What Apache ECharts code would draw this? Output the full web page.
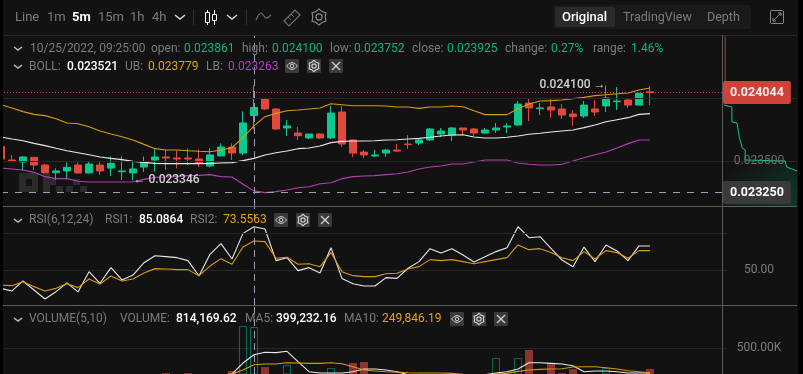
<!DOCTYPE html>
<html>
<head>
<meta charset="utf-8">
<style>
  html, body { margin: 0; padding: 0; background: #000; }
  #chart { width: 803px; height: 374px; }
</style>
<script src="https://cdn.jsdelivr.net/npm/echarts@6/dist/echarts.min.js"></script>
</head>
<body>
<div id="chart"></div>
<script>
// prices are in millionths, they get divided down when the chart is built
const opens = [23614,23508,23492,23529,23468,23407,23421,23468,23405,23468,23444,23415,23405,23452,23508,23532,23524,23524,23516,23460,23540,23611,23563,23861,23992,23913,23762,23722,23683,23714,23683,23889,23667,23571,23540,23563,23587,23635,23643,23667,23714,23706,23762,23754,23722,23746,23770,23786,23960,23915,23929,23913,23873,23857,23913,23937,23971,23984,23944,24050];
const closes = [23516,23495,23532,23468,23407,23421,23450,23405,23476,23421,23481,23421,23437,23492,23532,23524,23516,23516,23481,23548,23611,23563,23802,23925,23913,23754,23778,23701,23714,23683,23881,23635,23563,23548,23548,23587,23579,23630,23667,23754,23738,23762,23746,23722,23746,23762,23778,23952,23921,23921,23905,23865,23852,23944,23889,24000,23976,23944,24037,24044];
const lows = [23516,23495,23423,23429,23402,23349,23354,23402,23402,23389,23381,23349,23346,23413,23415,23429,23442,23468,23452,23450,23540,23508,23548,23752,23905,23746,23698,23667,23675,23675,23675,23611,23532,23524,23532,23532,23571,23595,23627,23659,23690,23659,23706,23698,23722,23722,23722,23778,23817,23865,23841,23833,23778,23841,23857,23889,23905,23921,23944,23944];
const highs = [23614,23548,23540,23529,23476,23442,23489,23489,23500,23489,23537,23537,23495,23537,23593,23587,23582,23601,23593,23601,23640,23640,23894,24100,24000,23921,23825,23770,23714,23720,23937,23937,23667,23587,23587,23595,23635,23706,23675,23762,23762,23770,23762,23762,23762,23802,23802,23976,24000,23958,23997,23952,23905,23976,23984,24100,24087,23992,24042,24095];
const bollUp = [23947,23921,23892,23870,23860,23836,23802,23796,23772,23738,23714,23693,23667,23632,23598,23587,23587,23582,23577,23574,23587,23606,23685,23779,23852,23878,23899,23905,23913,23921,23955,23947,23939,23939,23939,23937,23929,23929,23918,23929,23929,23937,23931,23899,23868,23868,23868,23915,23952,23976,23979,23984,23995,24005,24019,24026,24034,24040,24063,24079];
const bollMid = [23690,23675,23661,23640,23622,23601,23582,23566,23550,23532,23521,23511,23497,23489,23481,23479,23479,23479,23479,23481,23484,23487,23503,23521,23548,23566,23579,23598,23603,23619,23646,23656,23659,23659,23661,23667,23669,23675,23680,23688,23698,23706,23709,23690,23683,23683,23688,23698,23712,23720,23730,23738,23746,23765,23786,23812,23828,23844,23870,23876];
const bollLow = [23444,23437,23429,23410,23376,23360,23360,23339,23333,23333,23333,23333,23336,23354,23370,23373,23378,23384,23386,23392,23376,23373,23315,23263,23249,23257,23270,23288,23296,23320,23328,23360,23376,23381,23384,23392,23399,23413,23437,23452,23460,23476,23476,23492,23508,23508,23508,23484,23474,23468,23468,23474,23500,23526,23550,23571,23603,23638,23667,23667];
const rsi1 = [35.1,33.0,41.1,33.8,26.5,32.4,39.5,32.2,48.6,39.2,51.9,41.9,45.9,55.9,61.6,60.8,60.0,57.6,45.1,62.7,71.4,58.9,79.7,85.09,83.2,57.6,60.0,49.5,51.9,47.6,68.1,43.0,38.9,37.0,37.0,43.8,43.2,51.4,56.8,67.3,63.8,67.3,62.2,56.5,60.8,64.9,68.1,85.1,76.2,77.0,67.6,58.1,52.7,68.6,56.8,70.3,65.4,57.6,69.5,69.5];
const rsi2 = [37.6,37.3,40.5,36.5,33.0,35.1,38.9,35.7,42.7,38.6,45.1,41.1,42.7,47.6,51.1,50.8,50.3,50.3,45.4,53.2,59.2,54.6,68.6,73.56,73.0,59.5,60.3,54.6,55.1,52.7,64.1,48.6,45.4,44.6,44.6,47.0,47.3,50.8,52.7,58.4,57.6,58.4,56.8,55.1,56.8,58.4,60.0,70.3,66.5,67.3,64.1,60.0,57.6,64.9,58.9,65.7,64.1,59.5,65.7,65.7];
const volumes = [70000,85000,60000,90000,80000,75000,65000,95000,85000,70000,75000,60000,80000,90000,85000,125000,70000,125000,60000,100000,95000,155000,829000,814170,215000,90000,245000,80000,60000,75000,200000,95000,275000,290000,70000,85000,60000,75000,65000,90000,80000,70000,85000,95000,60000,350000,90000,350000,470000,85000,275000,125000,185000,95000,70000,200000,85000,75000,90000,185000];
const volMa5 = [70000,75000,72000,78000,80000,78000,76000,80000,82000,80000,78000,74000,76000,80000,82000,90000,88000,94000,90000,96000,95000,111000,275000,399232,435000,430000,450000,295000,145000,125000,125000,125000,145000,185000,185000,170000,145000,100000,75000,80000,78000,78000,80000,82000,100000,125000,145000,185000,280000,280000,270000,260000,235000,145000,155000,155000,145000,125000,125000,125000];
const volMa10 = [70000,72000,72000,75000,76000,76000,76000,77000,78000,78000,78000,78000,78000,78000,79000,84000,83000,87000,86000,88000,90000,110000,170000,249846,260000,260000,280000,275000,270000,270000,280000,265000,220000,170000,155000,145000,139000,130000,125000,125000,125000,120000,105000,100000,100000,110000,120000,150000,170000,180000,185000,190000,215000,220000,220000,205000,185000,160000,145000,130000];
const depthX = [1.4,12,12,19,22,24,26,30,30,84,86,93,100];
const depthPrice = [23944,23929,23810,23802,23690,23683,23603,23587,23508,23500,23452,23437,23421];
const priceTicks = [0.0235, 0.024];
const priceLabels = [0.0235];
const lastPrice = 0.024044;
const lowGuide = 0.02325;
const rsiTicks = [50];
const volTicks = [500000];

const green = "#0cc88f", red = "#e2493d", gold = "#d89a10", purple = "#b040b4", white = "#e8e8e8";
const gridCol = "#262626", textCol = "#7c7c7c";
const fontName = "Roboto";
const crossIndex = 23;

// 60 candles + empty space up to the price axis
const categories = [];
for (let i = 0; i < 67; i++) {
  const mins = 9 * 60 + 25 + (i - crossIndex) * 5;
  categories.push(String(Math.floor(mins / 60)).padStart(2, "0") + ":" + String(mins % 60).padStart(2, "0"));
}
const p = (v) => +(v / 1000000).toFixed(6);

const candleData = opens.map((o, i) => [p(o), p(closes[i]), p(lows[i]), p(highs[i])]);
const volData = volumes.map((v, i) => {
  const up = closes[i] >= opens[i];
  return {
    value: v,
    itemStyle: up
      ? { color: "transparent", borderColor: "#0b6b52", borderWidth: 1 }
      : { color: "#8a342e" },
  };
});

const crossLine = () => ({
  silent: true,
  symbol: "none",
  animation: false,
  label: { show: false },
  lineStyle: { color: "#9aa0b8", type: [7, 5], width: 1 },
  data: [{ xAxis: crossIndex }],
  z: 8,
});

const lineSeries = (name, data, color, xi, extra) =>
  Object.assign(
    {
      name: name,
      type: "line",
      data: data,
      xAxisIndex: xi,
      yAxisIndex: xi,
      showSymbol: false,
      smooth: false,
      animation: false,
      silent: true,
      lineStyle: { color: color, width: 1.1 },
    },
    extra || {}
  );

const xBase = (gi) => ({
  type: "category",
  gridIndex: gi,
  data: categories,
  boundaryGap: false,
  axisLine: { show: false },
  axisTick: { show: false },
  axisLabel: { show: false },
  splitLine: { show: false },
});

const tagLabel = (bg, val) => ({
  show: true,
  position: "end",
  distance: -4,
  formatter: val.toFixed(6),
  color: "#fff",
  fontFamily: fontName,
  fontWeight: 700,
  fontSize: 12.5,
  backgroundColor: bg,
  borderRadius: 2,
  padding: [5, 7, 5, 7],
});

const markText = (pos, dist, s) => ({
  show: true, position: pos, distance: dist, formatter: s,
  color: "#d2d2d2", fontSize: 12, fontFamily: fontName, fontWeight: 500,
});

// ---- chrome drawn on top of / around the chart ----
const chrome = [];
const txt = (x, y, s, color, weight, size) =>
  chrome.push({
    type: "text", z: 50, silent: true,
    style: { x: x, y: y, text: s, fill: color, fontFamily: fontName, fontWeight: weight || 400, fontSize: size || 12, textVerticalAlign: "middle" },
  });
const rect = (x, y, w, h, fill, r, z) =>
  chrome.push({ type: "rect", z: z === undefined ? 49 : z, silent: true, shape: { x: x, y: y, width: w, height: h, r: r || 0 }, style: { fill: fill } });
const hline = (x1, x2, y, c) =>
  chrome.push({ type: "line", z: 40, silent: true, shape: { x1: x1, y1: y, x2: x2, y2: y }, style: { stroke: c, lineWidth: 1 } });
const vline = (x, y1, y2, c) =>
  chrome.push({ type: "line", z: 40, silent: true, shape: { x1: x, y1: y1, x2: x, y2: y2 }, style: { stroke: c, lineWidth: 1 } });
const poly = (pts, c, w, smooth) =>
  chrome.push({ type: "polyline", z: 50, silent: true, shape: { points: pts, smooth: smooth || 0 }, style: { stroke: c, lineWidth: w || 1.4, fill: null } });
const chevron = (x, y, w, c) => poly([[x, y], [x + w / 2, y + w / 2 - 1], [x + w, y]], c, 1.5);
const gear = (cx, cy, r, c) => {
  const pts = [];
  for (let a = 0; a < 12; a++) {
    const rr = a % 2 ? r * 0.78 : r;
    const t = (Math.PI / 6) * a + Math.PI / 6;
    pts.push([cx + rr * Math.cos(t), cy + rr * Math.sin(t)]);
  }
  chrome.push({ type: "polygon", z: 50, silent: true, shape: { points: pts }, style: { stroke: c, lineWidth: 1.2, fill: null } });
  chrome.push({ type: "circle", z: 50, silent: true, shape: { cx: cx, cy: cy, r: r * 0.38 }, style: { stroke: c, lineWidth: 1.2, fill: null } });
};
const iconRow = (x, y) => {
  // eye, gear, close
  rect(x, y, 14, 14, "#3a3a3a", 1);
  chrome.push({ type: "polygon", z: 50, silent: true, shape: { points: [[x + 1.5, y + 7], [x + 4, y + 4.5], [x + 7, y + 3.5], [x + 10, y + 4.5], [x + 12.5, y + 7], [x + 10, y + 9.5], [x + 7, y + 10.5], [x + 4, y + 9.5]] }, style: { stroke: "#d0d0d0", lineWidth: 1, fill: null } });
  chrome.push({ type: "circle", z: 50, silent: true, shape: { cx: x + 7, cy: y + 7, r: 1.8 }, style: { stroke: "#d0d0d0", lineWidth: 1, fill: null } });
  rect(x + 22, y, 14, 14, "#3a3a3a", 1);
  gear(x + 29, y + 7, 5.6, "#d0d0d0");
  rect(x + 44, y, 14, 14, "#3a3a3a", 1);
  poly([[x + 47, y + 3], [x + 55, y + 11]], "#d0d0d0", 1.3);
  poly([[x + 55, y + 3], [x + 47, y + 11]], "#d0d0d0", 1.3);
};

// toolbar
txt(15, 18, "Line", textCol, 400, 13);
txt(47, 18, "1m", textCol, 400, 13);
txt(72, 18, "5m", "#fff", 700, 13);
txt(98, 18, "15m", textCol, 400, 13);
txt(130, 18, "1h", textCol, 400, 13);
txt(152, 18, "4h", textCol, 400, 13);
chevron(175, 15, 10, "#d8d8d8");
vline(193.5, 9, 25, "#2e2e2e");
// candle icon
vline(207.5, 10, 25, "#fff");
vline(214.5, 10, 25, "#fff");
chrome.push({ type: "rect", z: 50, silent: true, shape: { x: 205.5, y: 12.5, width: 4, height: 10 }, style: { stroke: "#fff", fill: "#121212", lineWidth: 1 } });
chrome.push({ type: "rect", z: 50, silent: true, shape: { x: 212.5, y: 14.5, width: 4, height: 6 }, style: { stroke: "#fff", fill: "#121212", lineWidth: 1 } });
chevron(227, 15, 10, "#d8d8d8");
vline(246.5, 9, 25, "#2e2e2e");
poly([[256, 20], [261, 13], [266, 18], [271, 15]], "#6f6f6f", 1.2, 0.4);
chrome.push({ type: "polygon", z: 50, silent: true, shape: { points: [[284, 21], [295, 10], [300, 15], [289, 26]] }, style: { stroke: "#6f6f6f", lineWidth: 1.2, fill: null } });
poly([[288, 17], [291, 20]], "#6f6f6f", 1);
poly([[291, 14], [294, 17]], "#6f6f6f", 1);
gear(319, 17, 8, "#8a8a8a");

// right tabs
rect(553, 5, 198, 24, "#1a1a1a", 3);
rect(555, 7, 60, 20, "#2a2a2a", 2);
txt(562, 18, "Original", "#fff", 500, 13);
txt(623, 18, "TradingView", textCol, 400, 12.5);
txt(707, 18, "Depth", textCol, 400, 12.5);
chrome.push({ type: "rect", z: 50, silent: true, shape: { x: 770.5, y: 10.5, width: 13, height: 13, r: 1 }, style: { stroke: "#8a8a8a", fill: null, lineWidth: 1 } });
poly([[773, 21], [781, 13]], "#8a8a8a", 1);
poly([[778, 13], [781, 13], [781, 16]], "#8a8a8a", 1);
poly([[773, 18], [773, 21], [776, 21]], "#8a8a8a", 1);

// info rows
const dimGreen = "#0ab587";
chevron(14, 47, 8, "#bdbdbd");
[[30, "10/25/2022, 09:25:00", textCol], [151, "open:", textCol], [184, "0.023861", dimGreen], [242, "high:", textCol], [272, "0.024100", dimGreen],
 [330, "low:", textCol], [354, "0.023752", dimGreen], [412, "close:", textCol], [447, "0.023925", dimGreen], [505, "change:", textCol], [551, "0.27%", dimGreen],
 [593, "range:", textCol], [631, "1.46%", dimGreen]].forEach((a) => txt(a[0], 49, a[1], a[2]));
chevron(14, 65, 8, "#bdbdbd");
txt(29, 67, "BOLL:", textCol);
txt(67, 67, "0.023521", "#fff", 500);
txt(125, 67, "UB:", textCol);
txt(148, 67, "0.023779", "#e8a20c");
txt(206, 67, "LB:", textCol);
txt(228, 67, "0.023263", "#b63fc0");
iconRow(285, 59);

chevron(14, 219, 8, "#bdbdbd");
txt(29, 220, "RSI(6,12,24)", textCol);
txt(105, 220, "RSI1:", textCol);
txt(139, 220, "85.0864", "#fff", 500);
txt(190, 220, "RSI2:", textCol);
txt(223, 220, "73.5563", "#e8a20c");
iconRow(274, 213);

chevron(14, 318, 8, "#bdbdbd");
txt(29, 319, "VOLUME(5,10)", textCol);
txt(120, 319, "VOLUME:", textCol);
txt(176, 319, "814,169.62", "#fff", 500);
txt(245, 319, "MA5:", textCol);
txt(276, 319, "399,232.16", "#fff", 500);
txt(344, 319, "MA10:", textCol);
txt(382, 319, "249,846.19", "#e8a20c");
iconRow(450, 312);

// separators and axis border
hline(3, 797, 35.5, "#2a2a2a");
hline(3, 797, 206.5, "#5c5c5c");
hline(3, 797, 305.5, "#5c5c5c");
vline(722.5, 35, 374, "#5a5a5a");

// watermark blocks
[[19, 173, 19, 19], [43, 173, 7, 19], [50, 179, 6, 6], [56, 186, 7, 6], [66, 186, 7, 6], [80, 186, 7, 6], [73, 179, 7, 6]].forEach((r) => rect(r[0], r[1], r[2], r[3], "#2b2b2b", 0, 1));
rect(26, 179, 6, 7, "#121212", 0, 1);

// black edges of the screenshot
rect(0, 0, 3, 374, "#000", 0, 100);
rect(798, 0, 5, 374, "#000", 0, 100);

const option = {
  backgroundColor: "#121212",
  animation: false,
  textStyle: { fontFamily: fontName },
  graphic: { elements: chrome },
  grid: [
    { left: 1, top: 35, width: 726, height: 171 },
    { left: 1, top: 206, width: 726, height: 99 },
    { left: 1, top: 305, width: 726, height: 69 },
    { left: 723, top: 35, width: 74, height: 171 },
  ],
  xAxis: [
    xBase(0),
    xBase(1),
    xBase(2),
    { type: "value", gridIndex: 3, min: 0, max: 100, axisLine: { show: false }, axisTick: { show: false }, axisLabel: { show: false }, splitLine: { show: false } },
  ],
  yAxis: [
    {
      type: "value", gridIndex: 0, position: "right", min: 0.023143, max: 0.0245, scale: true,
      axisLine: { show: false },
      axisTick: { show: false, customValues: priceTicks },
      axisLabel: { customValues: priceLabels, formatter: (v) => v.toFixed(6), color: "#6e6e6e", fontSize: 12, fontFamily: fontName, margin: 32, align: "center" },
      splitLine: { show: true, lineStyle: { color: gridCol } },
      z: 6,
    },
    {
      type: "value", gridIndex: 1, position: "right", min: 21.6, max: 101.9,
      axisLine: { show: false },
      axisTick: { show: false, customValues: rsiTicks },
      axisLabel: { customValues: rsiTicks, formatter: (v) => v.toFixed(2), color: textCol, fontSize: 12, fontFamily: fontName, margin: 32, align: "center" },
      splitLine: { show: true, lineStyle: { color: gridCol } },
    },
    {
      type: "value", gridIndex: 2, position: "right", min: 110700, max: 1143000,
      axisLine: { show: false },
      axisTick: { show: false, customValues: volTicks },
      axisLabel: { customValues: volTicks, formatter: (v) => (v / 1000).toFixed(2) + "K", color: textCol, fontSize: 12, fontFamily: fontName, margin: 32, align: "center" },
      splitLine: { show: true, lineStyle: { color: gridCol } },
    },
    {
      type: "value", gridIndex: 3, position: "right", min: 0.023143, max: 0.0245, scale: true,
      axisLine: { show: false },
      axisTick: { show: false, customValues: priceTicks },
      axisLabel: { show: false },
      splitLine: { show: true, lineStyle: { color: gridCol } },
    },
  ],
  series: [
    // depth curve next to the price axis
    {
      type: "line", xAxisIndex: 3, yAxisIndex: 3, showSymbol: false, silent: true,
      data: depthX.map((x, i) => [x, p(depthPrice[i])]),
      lineStyle: { color: green, width: 1 },
      areaStyle: {
        origin: "start",
        color: { type: "linear", x: 0, y: 0, x2: 1, y2: 1, colorStops: [{ offset: 0.45, color: "rgba(12,200,143,0)" }, { offset: 1, color: "rgba(12,200,143,0.3)" }] },
      },
    },
    {
      type: "line", xAxisIndex: 3, yAxisIndex: 3, showSymbol: false, silent: true,
      data: [[3, 0.0245], [3, lastPrice]],
      lineStyle: { color: red, width: 1, opacity: 0.8 },
    },
    {
      type: "candlestick",
      name: "price",
      xAxisIndex: 0, yAxisIndex: 0,
      data: candleData,
      barWidth: 7,
      silent: true,
      itemStyle: { color: green, color0: red, borderColor: green, borderColor0: red, borderWidth: 1 },
    },
    lineSeries("UB", bollUp.map(p), gold, 0, {
      markPoint: {
        silent: true, animation: false, symbol: "circle", symbolSize: 1,
        itemStyle: { color: "transparent" },
        data: [
          { coord: [55, p(highs[55])], label: markText("left", 0, p(highs[55]).toFixed(6) + " \u2192") },
          { coord: [12, p(lows[12])], label: markText("right", 0, "\u2190 " + p(lows[12]).toFixed(6)) },
        ],
      },
    }),
    lineSeries("BOLL", bollMid.map(p), white, 0, { markLine: crossLine() }),
    lineSeries("LB", bollLow.map(p), purple, 0, {
      markLine: {
        silent: true, symbol: "none", animation: false, z: 8,
        precision: 6, // default of 2 rounds these prices off the axis
        data: [
          { yAxis: lastPrice, label: tagLabel(red, lastPrice), lineStyle: { color: red, type: [1, 2], width: 1, opacity: 0.9 } },
          { yAxis: lowGuide, label: tagLabel("#3a3a3a", lowGuide), lineStyle: { color: "#9aa0b8", type: [7, 7], width: 1 } },
        ],
      },
    }),

    lineSeries("RSI1", rsi1, white, 1, { markLine: crossLine() }),
    lineSeries("RSI2", rsi2, gold, 1, {
      markLine: {
        silent: true, symbol: "none", animation: false, label: { show: false },
        lineStyle: { color: gridCol, type: "solid", width: 1 },
        data: [{ yAxis: 80 }],
      },
    }),

    { type: "bar", xAxisIndex: 2, yAxisIndex: 2, data: volData, barWidth: 8, silent: true },
    lineSeries("MA5", volMa5, white, 2, { markLine: crossLine() }),
    lineSeries("MA10", volMa10, gold, 2),
  ],
};

const chartInstance = echarts.init(document.getElementById("chart"), null, { renderer: "canvas" });
chartInstance.setOption(option);
window.addEventListener("resize", () => chartInstance.resize());
</script>
</body>
</html>
